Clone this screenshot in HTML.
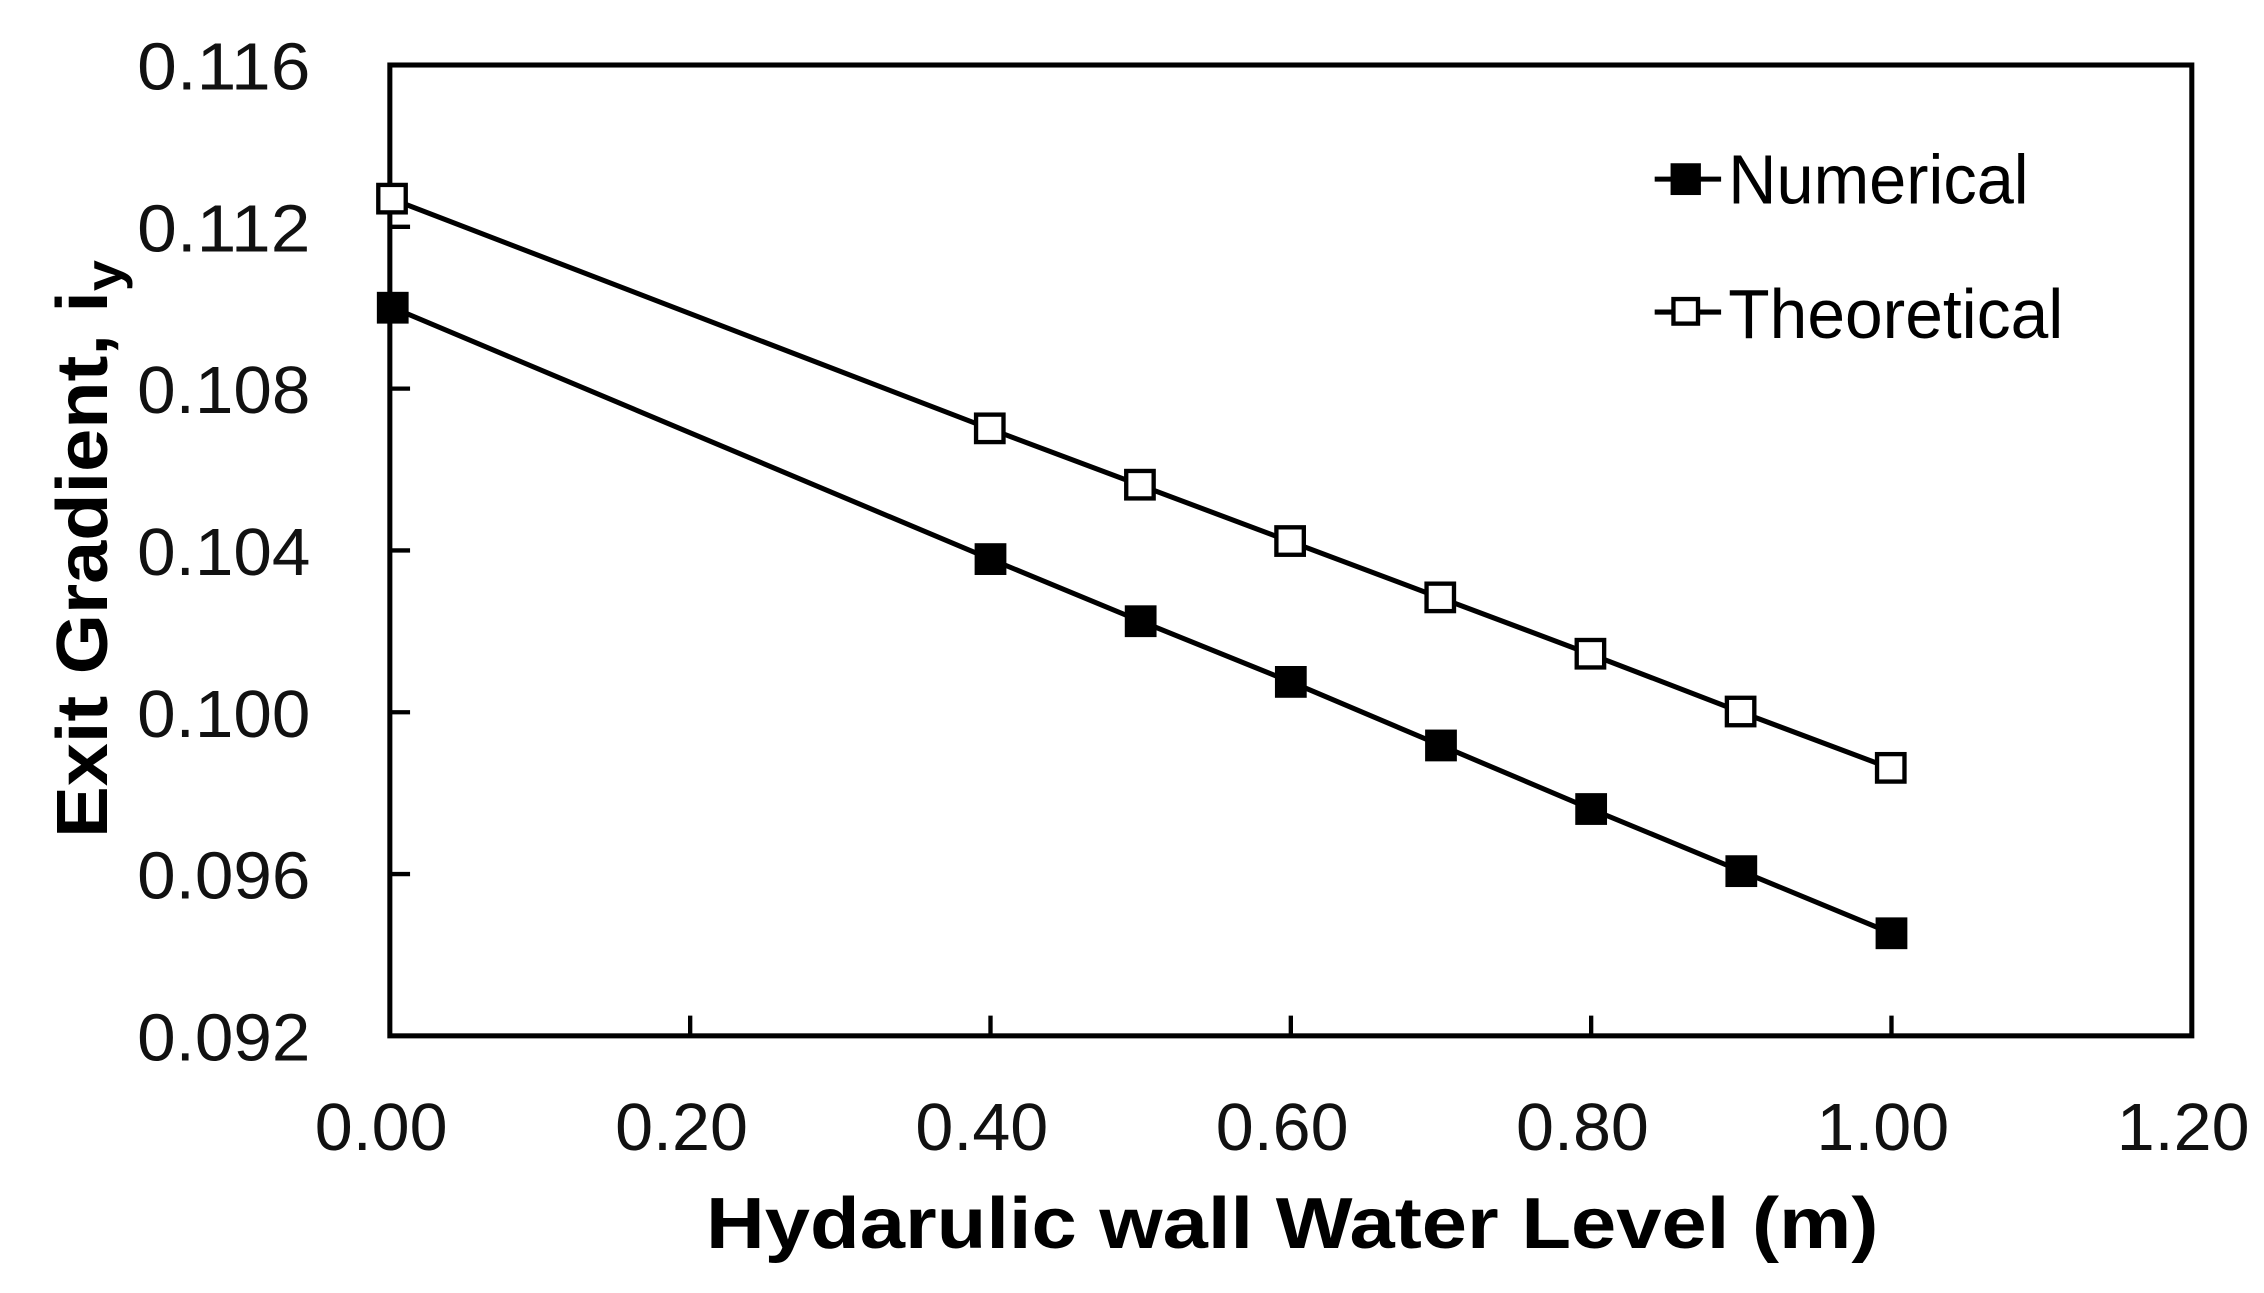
<!DOCTYPE html>
<html><head><meta charset="utf-8"><style>html,body{margin:0;padding:0;background:#fff}svg{display:block}</style></head>
<body>
<svg width="2264" height="1293" viewBox="0 0 1568 895" preserveAspectRatio="none" xmlns="http://www.w3.org/2000/svg" font-family="Liberation Sans, sans-serif">
<rect width="1568" height="895" fill="#fff"/>
<rect x="270" y="45" width="1248" height="672" fill="none" stroke="#000" stroke-width="3.5"/>
<g stroke="#000" stroke-width="3">
<line x1="478" y1="717" x2="478" y2="703"/><line x1="686" y1="717" x2="686" y2="703"/><line x1="894" y1="717" x2="894" y2="703"/><line x1="1102" y1="717" x2="1102" y2="703"/><line x1="1310" y1="717" x2="1310" y2="703"/>
<line x1="270" y1="157" x2="284" y2="157"/><line x1="270" y1="269" x2="284" y2="269"/><line x1="270" y1="381" x2="284" y2="381"/><line x1="270" y1="493" x2="284" y2="493"/><line x1="270" y1="605" x2="284" y2="605"/>
</g>
<g font-size="46" text-anchor="end" fill="#111" lengthAdjust="spacingAndGlyphs">
<text x="215" y="62" textLength="120" lengthAdjust="spacingAndGlyphs">0.116</text>
<text x="215" y="174" textLength="120" lengthAdjust="spacingAndGlyphs">0.112</text>
<text x="215" y="286" textLength="120" lengthAdjust="spacingAndGlyphs">0.108</text>
<text x="215" y="398" textLength="120" lengthAdjust="spacingAndGlyphs">0.104</text>
<text x="215" y="510" textLength="120" lengthAdjust="spacingAndGlyphs">0.100</text>
<text x="215" y="622" textLength="120" lengthAdjust="spacingAndGlyphs">0.096</text>
<text x="215" y="734" textLength="120" lengthAdjust="spacingAndGlyphs">0.092</text>
</g>
<g font-size="46" text-anchor="middle" fill="#111">
<text x="264" y="796" textLength="92" lengthAdjust="spacingAndGlyphs">0.00</text><text x="472" y="796" textLength="92" lengthAdjust="spacingAndGlyphs">0.20</text><text x="680" y="796" textLength="92" lengthAdjust="spacingAndGlyphs">0.40</text><text x="888" y="796" textLength="92" lengthAdjust="spacingAndGlyphs">0.60</text><text x="1096" y="796" textLength="92" lengthAdjust="spacingAndGlyphs">0.80</text><text x="1304" y="796" textLength="92" lengthAdjust="spacingAndGlyphs">1.00</text><text x="1512" y="796" textLength="92" lengthAdjust="spacingAndGlyphs">1.20</text>
</g>
<text x="895" y="864" font-size="50" font-weight="bold" text-anchor="middle" textLength="812" lengthAdjust="spacingAndGlyphs">Hydarulic wall Water Level (m)</text>
<text transform="translate(74,380) rotate(-90)" font-size="50" font-weight="bold" text-anchor="middle" textLength="400" lengthAdjust="spacingAndGlyphs">Exit Gradient, i<tspan font-size="36" dy="10">y</tspan></text>
<g fill="none" stroke="#000" stroke-width="3.5">
<polyline points="272,138 686,297 790,336 894,375 998,414 1102,453 1206,493 1310,532"/>
<polyline points="272,213 686,387 790,430 894,472 998,516 1102,560 1206,603 1310,646"/>
</g>
<g fill="#000">
<rect x="261" y="202" width="22" height="22"/><rect x="675" y="376" width="22" height="22"/><rect x="779" y="419" width="22" height="22"/><rect x="883" y="461" width="22" height="22"/><rect x="987" y="505" width="22" height="22"/><rect x="1091" y="549" width="22" height="22"/><rect x="1195" y="592" width="22" height="22"/><rect x="1299" y="635" width="22" height="22"/>
</g>
<g fill="#fff" stroke="#000" stroke-width="3">
<rect x="262" y="128" width="19" height="19"/><rect x="676" y="287" width="19" height="19"/><rect x="780" y="326" width="19" height="19"/><rect x="884" y="365" width="19" height="19"/><rect x="988" y="404" width="19" height="19"/><rect x="1092" y="443" width="19" height="19"/><rect x="1196" y="483" width="19" height="19"/><rect x="1300" y="522" width="19" height="19"/>
</g>
<line x1="1146" y1="124" x2="1192" y2="124" stroke="#000" stroke-width="3.5"/>
<rect x="1157" y="113" width="21" height="22" fill="#000"/>
<line x1="1146" y1="216" x2="1192" y2="216" stroke="#000" stroke-width="3.5"/>
<rect x="1159" y="207" width="17" height="17" fill="#fff" stroke="#000" stroke-width="3"/>
<text x="1197" y="141" font-size="48" textLength="208" lengthAdjust="spacingAndGlyphs">Numerical</text>
<text x="1197" y="234" font-size="48" textLength="232" lengthAdjust="spacingAndGlyphs">Theoretical</text>
</svg>
</body></html>
